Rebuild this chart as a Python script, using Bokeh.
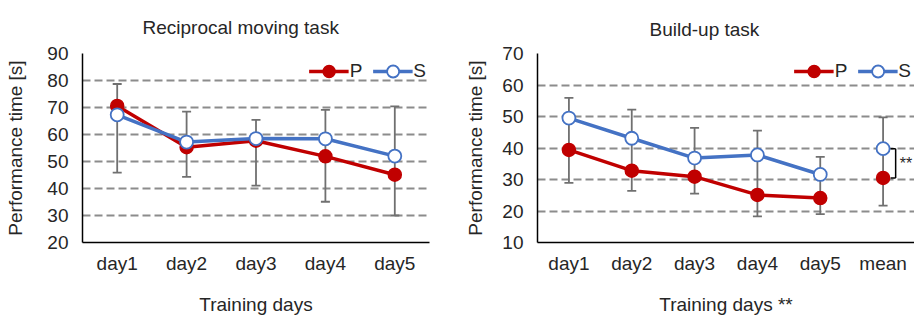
from bokeh.plotting import figure
from bokeh.models import Range1d, FixedTicker, Whisker, TeeHead, ColumnDataSource, Legend, LegendItem
from bokeh.layouts import row
from bokeh.embed import file_html
from bokeh.resources import INLINE
from bokeh.core.properties import value

# ---------------- data ----------------
rec_days = ["day1", "day2", "day3", "day4", "day5"]
rec_P = [70.6, 55.3, 57.7, 51.9, 45.1]
rec_S = [67.3, 57.2, 58.5, 58.4, 52.0]
rec_P_err = [24.7, 11.0, 16.6, 16.8, 15.1]   # lower error bars (P)
rec_S_err = [11.4, 11.3, 6.9, 10.7, 18.4]    # upper error bars (S)
rec_yticks = [20, 30, 40, 50, 60, 70, 80, 90]

bu_days = ["day1", "day2", "day3", "day4", "day5", "mean"]
bu_P = [39.4, 32.8, 30.9, 25.1, 24.1, 30.5]
bu_S = [49.5, 43.1, 36.8, 37.8, 31.6, 39.8]
bu_P_err = [10.5, 6.4, 5.4, 6.8, 5.1, 8.8]
bu_S_err = [6.4, 9.1, 9.6, 7.7, 5.6, 9.9]
bu_yticks = [10, 20, 30, 40, 50, 60, 70]

RED = "#C00000"
BLUE = "#4472C4"
GRID = "#8C8C8C"
ERR = "#707070"
TXT = "#262626"
FONT = "Liberation Sans"
FS = "19px"


def make_panel(title, title_offset, title_standoff, days, P, S, P_err, S_err, yticks, xlabel,
               width, border_left, border_right, ylabel_standoff, n_line):
    n = len(days)
    xs = list(range(1, n + 1))
    p = figure(width=width, height=318, output_backend="svg", toolbar_location=None,
               x_range=Range1d(0.5, n + 0.5), y_range=Range1d(yticks[0], yticks[-1]),
               min_border_left=border_left, min_border_right=border_right,
               min_border_top=53, min_border_bottom=76,
               title=title)
    p.outline_line_color = None
    p.background_fill_color = "white"
    p.border_fill_color = "white"

    p.title.align = "left"
    p.title.vertical_align = "top"
    p.title.offset = title_offset
    p.title.standoff = title_standoff
    p.title.text_font = FONT
    p.title.text_font_size = FS
    p.title.text_font_style = "normal"
    p.title.text_color = TXT

    for ax in (p.xaxis[0], p.yaxis[0]):
        ax.major_tick_out = 0
        ax.major_tick_in = 0
        ax.minor_tick_out = 0
        ax.minor_tick_in = 0
        ax.axis_line_color = "black"
        ax.axis_line_width = 1.5
        ax.major_label_text_font = FONT
        ax.major_label_text_font_size = FS
        ax.major_label_text_color = TXT
        ax.axis_label_text_font = FONT
        ax.axis_label_text_font_size = FS
        ax.axis_label_text_font_style = "normal"
        ax.axis_label_text_color = TXT

    p.yaxis.ticker = FixedTicker(ticks=yticks)
    p.yaxis.axis_label = "Performance time [s]"
    p.yaxis.major_label_standoff = 14
    p.yaxis.axis_label_standoff = ylabel_standoff

    p.xaxis.ticker = FixedTicker(ticks=xs)
    p.xaxis.major_label_overrides = {x: d for x, d in zip(xs, days)}
    p.xaxis.axis_label = xlabel
    p.xaxis.major_label_standoff = 10
    p.xaxis.axis_label_standoff = 17

    p.xgrid.visible = False
    p.ygrid.grid_line_color = GRID
    p.ygrid.grid_line_width = 2
    p.ygrid.grid_line_dash = "8 4"

    # error bars: S upward, P downward
    src = ColumnDataSource(dict(
        x=xs,
        up=[s + e for s, e in zip(S, S_err)],
        lo=[pv - e for pv, e in zip(P, P_err)],
    ))
    w = Whisker(base="x", upper="up", lower="lo", source=src,
                line_color=ERR, line_width=1.8,
                upper_head=TeeHead(size=9, line_color=ERR, line_width=1.8),
                lower_head=TeeHead(size=9, line_color=ERR, line_width=1.8))
    p.add_layout(w)

    lp = p.line(xs[:n_line], P[:n_line], line_color=RED, line_width=3.5)
    ls = p.line(xs[:n_line], S[:n_line], line_color=BLUE, line_width=3.5)
    sp = p.scatter(xs, P, size=13, fill_color=RED, line_color=RED, line_width=1.5)
    ss = p.scatter(xs, S, size=13, fill_color="white", line_color=BLUE, line_width=1.8)

    legend = Legend(items=[LegendItem(label="P", renderers=[lp, sp]),
                           LegendItem(label="S", renderers=[ls, ss])],
                    orientation="horizontal", location="top_right")
    legend.glyph_width = 40
    legend.glyph_height = 30
    legend.label_standoff = 1
    legend.label_width = 12
    legend.spacing = 10
    legend.padding = 0
    legend.margin = 3
    legend.label_text_font = FONT
    legend.label_text_font_size = FS
    legend.label_text_color = TXT
    legend.background_fill_alpha = 0
    legend.border_line_color = None
    p.add_layout(legend)
    return p, xs


p1, _ = make_panel("Reciprocal moving task", 60, 27, rec_days, rec_P, rec_S, rec_P_err, rec_S_err,
                   rec_yticks, "Training days", 462, 82, 33, 18, 5)
p2, xs2 = make_panel("Build-up task", 112, 24, bu_days, bu_P, bu_S, bu_P_err, bu_S_err,
                     bu_yticks, "Training days **", 452, 74, 0, 13, 5)

# significance bracket between mean values
mx = xs2[-1]
bx = mx + 0.2
tx = mx + 0.12
p2.segment(x0=[bx, tx, tx], y0=[bu_P[-1], bu_P[-1], bu_S[-1]],
           x1=[bx, bx, bx], y1=[bu_S[-1], bu_P[-1], bu_S[-1]],
           line_color="black", line_width=1.5)
p2.text(x=[mx + 0.265], y=[(bu_P[-1] + bu_S[-1]) / 2], text=["**"],
        text_font=value(FONT), text_font_size="16px", text_color=TXT,
        text_baseline="middle", text_align="left")

layout = row(p1, p2)
open("out.html", "w").write(file_html(layout, INLINE))
